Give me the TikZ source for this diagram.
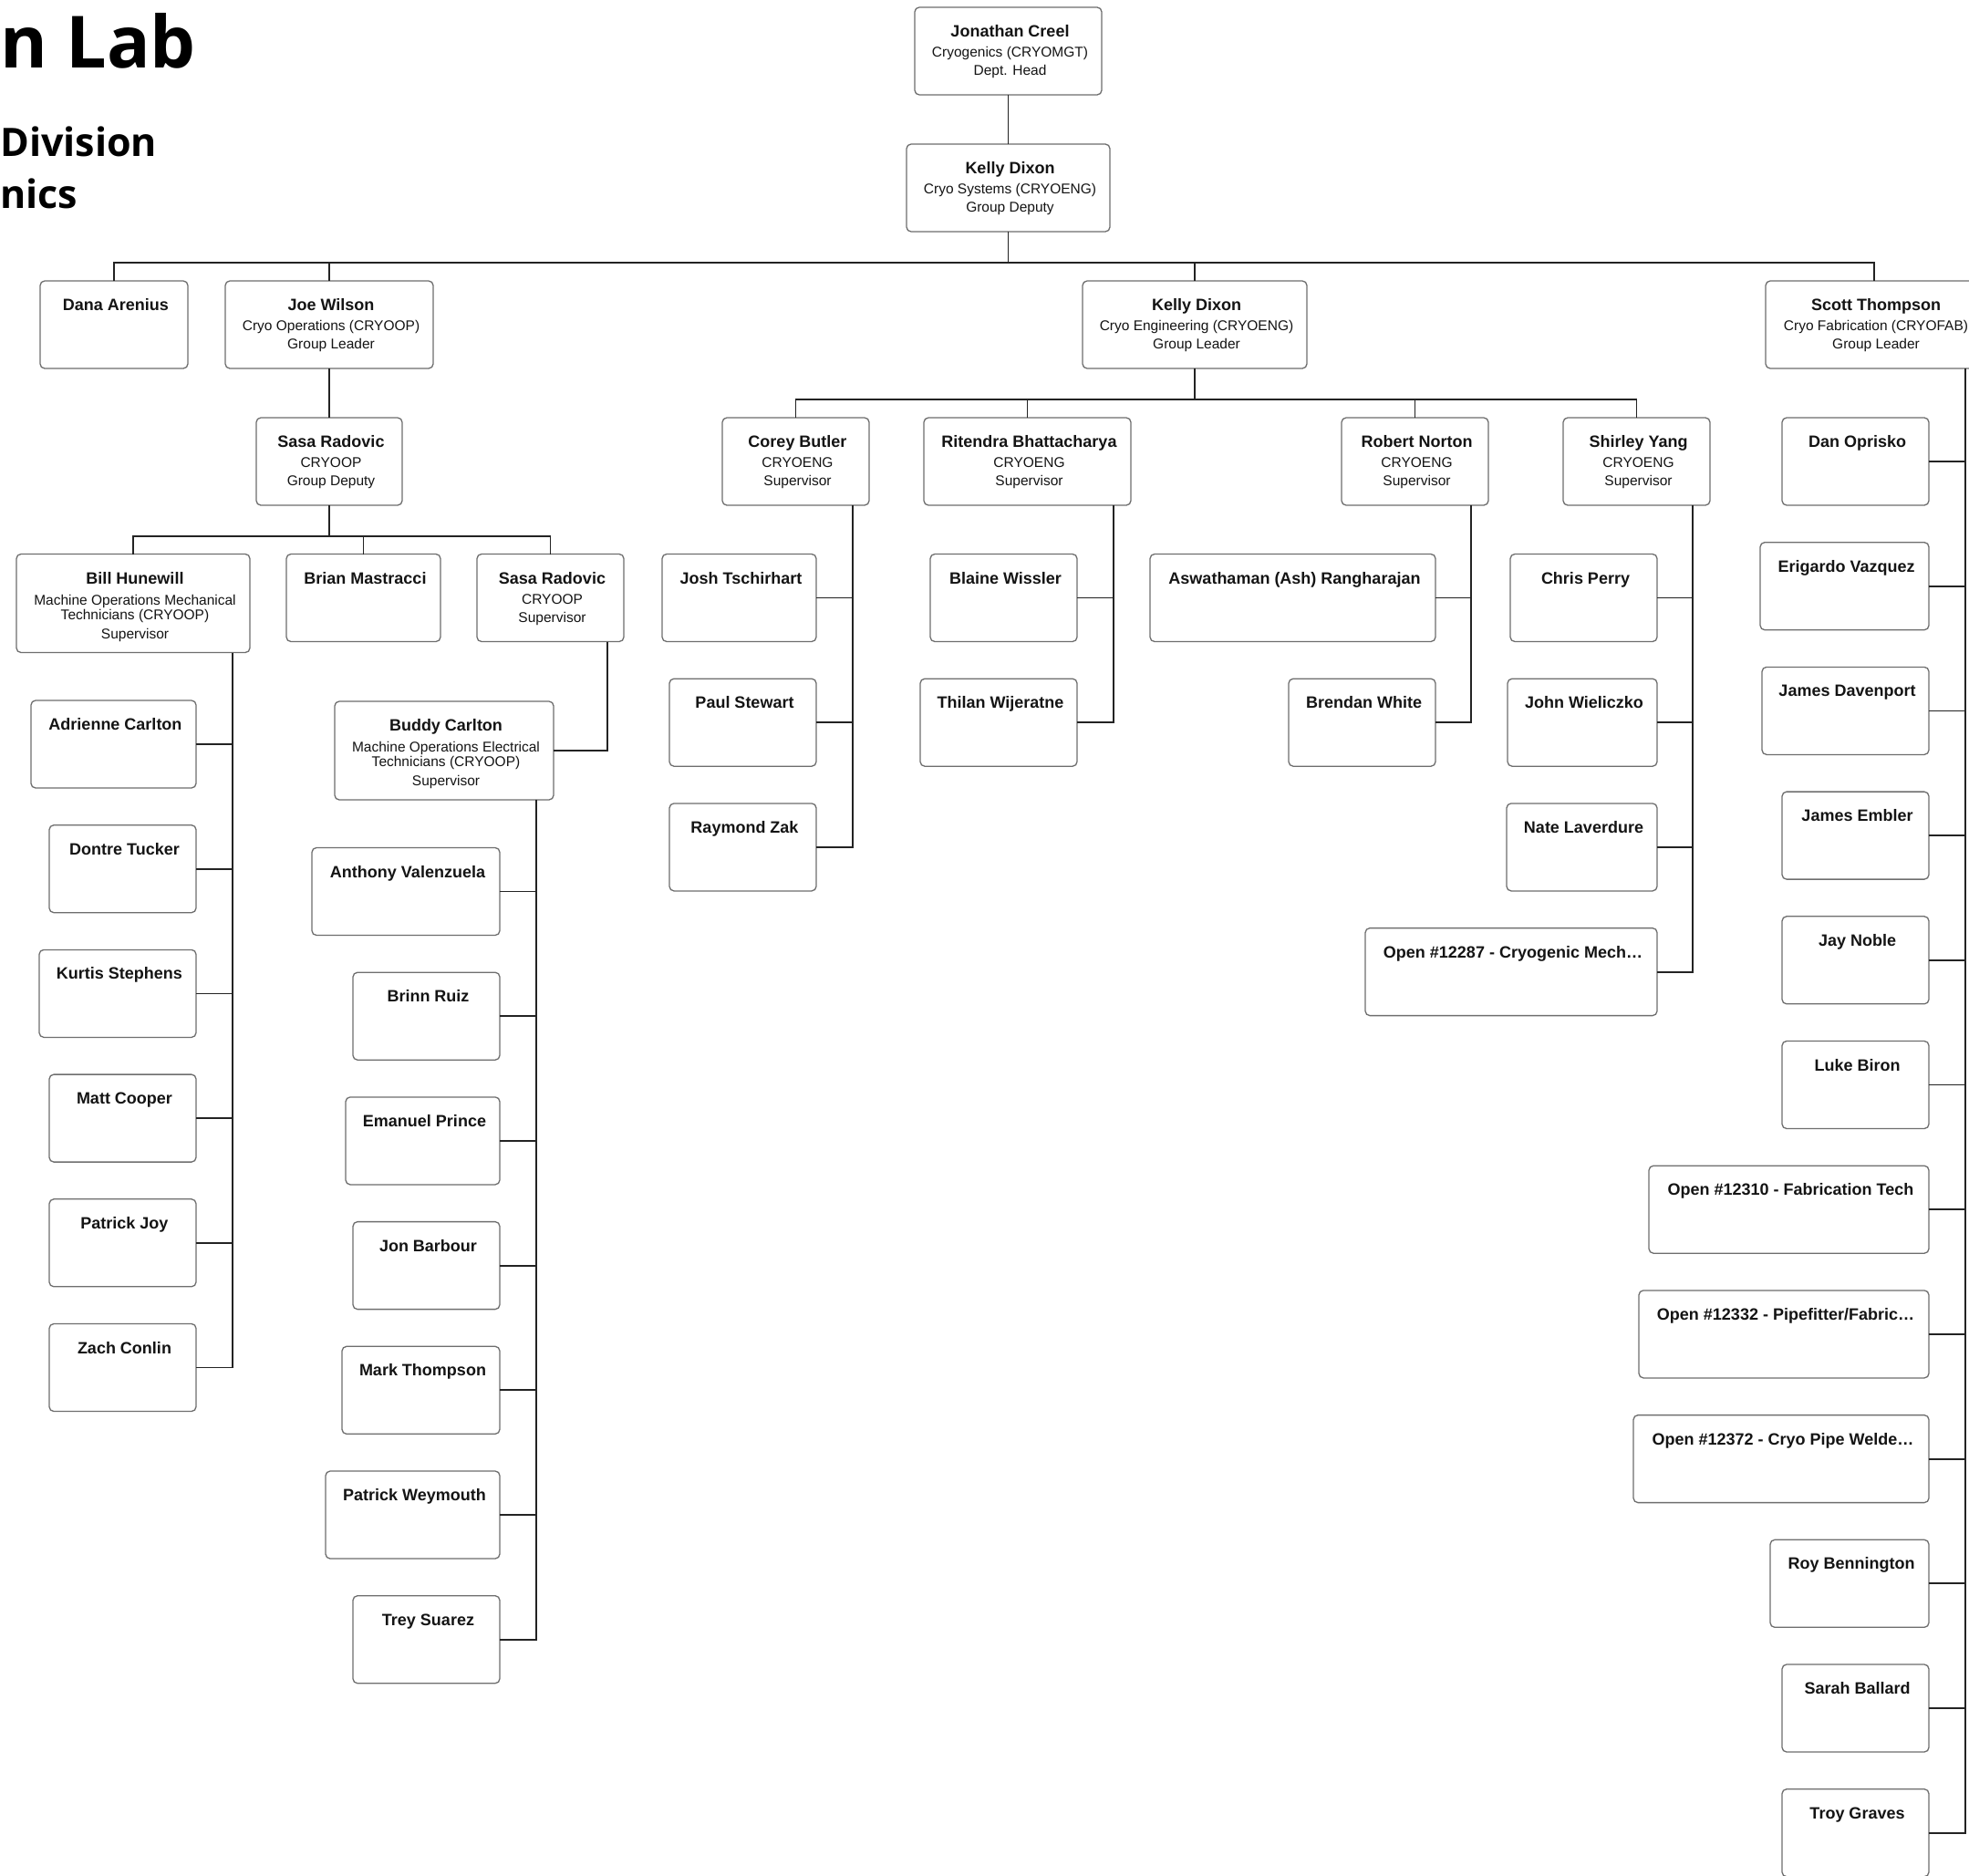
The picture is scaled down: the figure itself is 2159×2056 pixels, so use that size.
\documentclass[tikz,border=0pt]{standalone}
\usepackage{fontspec}
\setmainfont{Liberation Sans}
\newfontfamily\titlefont{Open Sans}
\definecolor{boxc}{RGB}{110,110,110}
\definecolor{linec}{RGB}{35,35,35}
\definecolor{txtc}{RGB}{20,20,20}
\tikzset{
  pbox/.style={draw=boxc, line width=1.3pt, rounded corners=5pt, fill=white, inner sep=0pt, outer sep=0pt},
  nm/.style={anchor=base, inner sep=0pt, font=\fontsize{18}{21}\selectfont\bfseries, text=txtc},
  sb/.style={anchor=base, inner sep=0pt, font=\fontsize{15.5}{18}\selectfont, text=txtc},
  conn/.style={draw=linec, line width=1.8pt},
  ttl/.style={anchor=base west, inner sep=0pt, text=black},
}
\newcommand\PB[6]{%
  \node[pbox, minimum width={#3-#2}, minimum height={#5}, anchor=north west] (#1) at (#2,#4) {};
  \node[nm] (#1-a) at ([xshift=2pt,yshift=-32.5pt]#1.north) {#6};}
\newcommand\PS[4]{\node[sb] (#1-#2) at ([xshift=2pt,yshift=-#3pt]#1.north) {#4};}
\begin{document}
\begin{tikzpicture}[x=1pt,y=-1pt]
\useasboundingbox (0,0) rectangle (2159,2056);
\fill[white] (0,0) rectangle (2159,2056);
% titles
\node[ttl, font=\titlefont\fontsize{79}{90}\selectfont\bfseries] (t1) at (0,74) {n Lab};
\node[ttl, font=\titlefont\fontsize{43}{50}\selectfont\bfseries] (t2) at (0,171) {Division};
\node[ttl, font=\titlefont\fontsize{43}{50}\selectfont\bfseries] (t3) at (0,228) {nics};
% top
\PB{jc}{1003}{1208}{8}{96}{Jonathan Creel}
\PS{jc}{b}{54.5}{Cryogenics (CRYOMGT)}
\PS{jc}{c}{74.5}{Dept. Head}
\PB{kd}{994}{1217}{158}{96}{Kelly Dixon}
\PS{kd}{b}{54.5}{Cryo Systems (CRYOENG)}
\PS{kd}{c}{74.5}{Group Deputy}
% row C
\PB{da}{44}{206}{308}{96}{Dana Arenius}
\PB{jw}{247}{475}{308}{96}{Joe Wilson}
\PS{jw}{b}{54.5}{Cryo Operations (CRYOOP)}
\PS{jw}{c}{74.5}{Group Leader}
\PB{ke}{1187}{1433}{308}{96}{Kelly Dixon}
\PS{ke}{b}{54.5}{Cryo Engineering (CRYOENG)}
\PS{ke}{c}{74.5}{Group Leader}
\PB{st}{1936}{2174}{308}{96}{Scott Thompson}
\PS{st}{b}{54.5}{Cryo Fabrication (CRYOFAB)}
\PS{st}{c}{74.5}{Group Leader}
% row D
\PB{sg}{281}{441}{458}{96}{Sasa Radovic}
\PS{sg}{b}{54.5}{CRYOOP}
\PS{sg}{c}{74.5}{Group Deputy}
\PB{cb}{792}{953}{458}{96}{Corey Butler}
\PS{cb}{b}{54.5}{CRYOENG}
\PS{cb}{c}{74.5}{Supervisor}
\PB{rb}{1013}{1240}{458}{96}{Ritendra Bhattacharya}
\PS{rb}{b}{54.5}{CRYOENG}
\PS{rb}{c}{74.5}{Supervisor}
\PB{rn}{1471}{1632}{458}{96}{Robert Norton}
\PS{rn}{b}{54.5}{CRYOENG}
\PS{rn}{c}{74.5}{Supervisor}
\PB{sy}{1714}{1875}{458}{96}{Shirley Yang}
\PS{sy}{b}{54.5}{CRYOENG}
\PS{sy}{c}{74.5}{Supervisor}
% row E
\PB{bh}{18}{274}{607.5}{108}{Bill Hunewill}
\PS{bh}{b}{55.5}{Machine Operations Mechanical}
\PS{bh}{c}{71.5}{Technicians (CRYOOP)}
\PS{bh}{d}{92.5}{Supervisor}
\PB{bm}{314}{483}{607.5}{96}{Brian Mastracci}
\PB{sr}{523}{684}{607.5}{96}{Sasa Radovic}
\PS{sr}{b}{54.5}{CRYOOP}
\PS{sr}{c}{74.5}{Supervisor}
\PB{jt}{726}{895}{607.5}{96}{Josh Tschirhart}
\PB{bwi}{1020}{1181}{607.5}{96}{Blaine Wissler}
\PB{ar}{1261}{1574}{607.5}{96}{Aswathaman (Ash) Rangharajan}
\PB{cp}{1656}{1817}{607.5}{96}{Chris Perry}
% row F / G / H (CRYOENG)
\PB{ps}{734}{895}{744.2}{96}{Paul Stewart}
\PB{tw}{1009}{1181}{744.2}{96}{Thilan Wijeratne}
\PB{bw}{1413}{1574}{744.2}{96}{Brendan White}
\PB{jwz}{1653}{1817}{744.2}{96}{John Wieliczko}
\PB{rz}{734}{895}{880.9}{96}{Raymond Zak}
\PB{nl}{1652}{1817}{880.9}{96}{Nate Laverdure}
\PB{oa}{1497}{1817}{1017.6}{96}{Open \#12287 - Cryogenic Mech…}
% Buddy
\PB{bc}{367}{607}{769}{108}{Buddy Carlton}
\PS{bc}{b}{55.5}{Machine Operations Electrical}
\PS{bc}{c}{71.5}{Technicians (CRYOOP)}
\PS{bc}{d}{92.5}{Supervisor}
% Bill's team
\PB{ac}{34}{215}{768}{96}{Adrienne Carlton}
\PB{dt}{54}{215}{904.7}{96}{Dontre Tucker}
\PB{ks}{43}{215}{1041.4}{96}{Kurtis Stephens}
\PB{mc}{54}{215}{1178.1}{96}{Matt Cooper}
\PB{pj}{54}{215}{1314.8}{96}{Patrick Joy}
\PB{zc}{54}{215}{1451.5}{96}{Zach Conlin}
% Buddy's team
\PB{av}{342}{548}{929.5}{96}{Anthony Valenzuela}
\PB{br}{387}{548}{1066.2}{96}{Brinn Ruiz}
\PB{ep}{379}{548}{1202.9}{96}{Emanuel Prince}
\PB{jb}{387}{548}{1339.6}{96}{Jon Barbour}
\PB{mt}{375}{548}{1476.3}{96}{Mark Thompson}
\PB{pw}{357}{548}{1613}{96}{Patrick Weymouth}
\PB{ts}{387}{548}{1749.7}{96}{Trey Suarez}
% Scott's team
\PB{dop}{1954}{2115}{458}{96}{Dan Oprisko}
\PB{ev}{1930}{2115}{594.7}{96}{Erigardo Vazquez}
\PB{jd}{1932}{2115}{731.4}{96}{James Davenport}
\PB{je}{1954}{2115}{868.1}{96}{James Embler}
\PB{jn}{1954}{2115}{1004.8}{96}{Jay Noble}
\PB{lb}{1954}{2115}{1141.5}{96}{Luke Biron}
\PB{ob}{1808}{2115}{1278.2}{96}{Open \#12310 - Fabrication Tech}
\PB{oc}{1797}{2115}{1414.9}{96}{Open \#12332 - Pipefitter/Fabric…}
\PB{od}{1791}{2115}{1551.6}{96}{Open \#12372 - Cryo Pipe Welde…}
\PB{rbn}{1941}{2115}{1688.3}{96}{Roy Bennington}
\PB{sba}{1954}{2115}{1825}{96}{Sarah Ballard}
\PB{tg}{1954}{2115}{1961.7}{96}{Troy Graves}
% bus coordinates
\coordinate (b1) at (0,288);
\coordinate (b2) at (0,438);
\coordinate (b3) at (0,588);
\coordinate (bhv) at (255,715.5);
\coordinate (srv) at (666,703.5);
\coordinate (bcv) at (588,877);
\coordinate (cbv) at (935,554);
\coordinate (rbv) at (1221,554);
\coordinate (rnv) at (1613,554);
\coordinate (syv) at (1856,554);
\coordinate (stv) at (2155,404);
% connectors
\draw[conn] (jc.south) -- (kd.north);
\draw[conn] (kd.south) -- (kd.south |- b1);
\draw[conn] (da.north) -- (da.north |- b1) -- (st.north |- b1) -- (st.north);
\draw[conn] (jw.north) -- (jw.north |- b1);
\draw[conn] (ke.north) -- (ke.north |- b1);
\draw[conn] (jw.south) -- (sg.north);
\draw[conn] (sg.south) -- (sg.south |- b3);
\draw[conn] (bh.north) -- (bh.north |- b3) -- (sr.north |- b3) -- (sr.north);
\draw[conn] (bm.north) -- (bm.north |- b3);
\draw[conn] (ke.south) -- (ke.south |- b2);
\draw[conn] (cb.north) -- (cb.north |- b2) -- (sy.north |- b2) -- (sy.north);
\draw[conn] (rb.north) -- (rb.north |- b2);
\draw[conn] (rn.north) -- (rn.north |- b2);
% Bill
\draw[conn] (bhv) |- (zc.east);
\foreach \n in {ac,dt,ks,mc,pj} \draw[conn] (\n.east) -- (\n.east -| bhv);
% Sasa sup -> Buddy
\draw[conn] (srv) |- (bc.east);
\draw[conn] (bcv) |- (ts.east);
\foreach \n in {av,br,ep,jb,mt,pw} \draw[conn] (\n.east) -- (\n.east -| bcv);
% CRYOENG
\draw[conn] (cbv) |- (rz.east);
\foreach \n in {jt,ps} \draw[conn] (\n.east) -- (\n.east -| cbv);
\draw[conn] (rbv) |- (tw.east);
\draw[conn] (bwi.east) -- (bwi.east -| rbv);
\draw[conn] (rnv) |- (bw.east);
\draw[conn] (ar.east) -- (ar.east -| rnv);
\draw[conn] (syv) |- (oa.east);
\foreach \n in {cp,jwz,nl} \draw[conn] (\n.east) -- (\n.east -| syv);
% Scott
\draw[conn] (stv) |- (tg.east);
\foreach \n in {dop,ev,jd,je,jn,lb,ob,oc,od,rbn,sba} \draw[conn] (\n.east) -- (\n.east -| stv);
\end{tikzpicture}
\end{document}
